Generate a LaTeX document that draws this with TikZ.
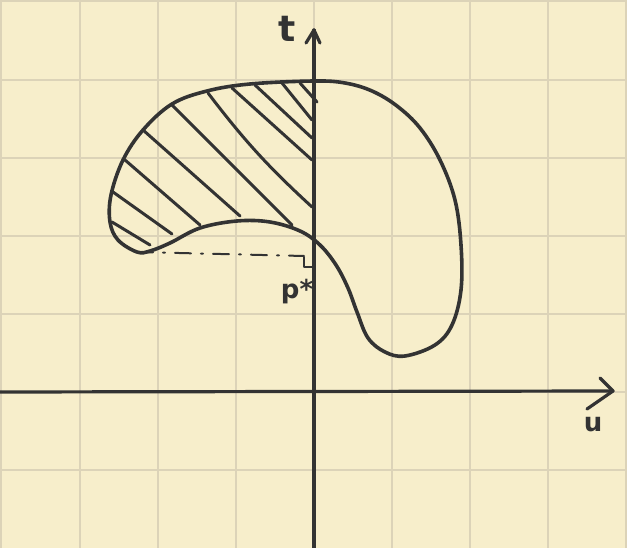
\documentclass[tikz,border=0pt]{standalone}
\usepackage{fontspec}
\setmainfont{DejaVu Sans}
\definecolor{paper}{HTML}{F7EECB}
\definecolor{gridc}{HTML}{DCD3B8}
\definecolor{ink}{HTML}{333333}
\begin{document}
\begin{tikzpicture}[x=1pt,y=-1pt,
  gridline/.style={gridc,line width=2.4pt},
  axisline/.style={ink,line width=3.2pt,line cap=round,line join=round},
  curveline/.style={ink,line width=3.6pt,line join=round},
  hatchline/.style={ink,line width=3pt,line cap=round},
  dashline/.style={ink,line width=2pt,line cap=round,dash pattern=on 16pt off 10pt on 2pt off 10pt},
  lbl/.style={ink,inner sep=0pt,font=\bfseries\fontsize{30}{30}\selectfont}]
\fill[paper] (0,0) rectangle (627,548);
\useasboundingbox (0,0) rectangle (627,548);
% grid
\foreach \x in {1,80,158,236,314,392,470,548,626} \draw[gridline] (\x,0) -- (\x,548);
\foreach \y in {1,80,158,236,314,392,470} \draw[gridline] (0,\y) -- (627,\y);
% hatching
\draw[hatchline] (112,222) -- (150,245);
\draw[hatchline] (113,192) -- (172,234);
\draw[hatchline] (125,160) -- (200,225);
\draw[hatchline] (143,130) -- (240,216);
\draw[hatchline] (172,105) -- (292,225);
\draw[hatchline] (208,93) to[bend right=5] (312,207);
\draw[hatchline] (232,88) -- (312,160);
\draw[hatchline] (255,85) -- (312,138);
\draw[hatchline] (282,83) -- (312,120);
\draw[hatchline] (300,83) -- (317,102);
% axes
\coordinate (ybot) at (314,548);
\coordinate (ytop) at (314,30);
\coordinate (xl) at (0,392);
\coordinate (xr) at (613,391);
\draw[axisline] (ybot) -- (ytop);
\draw[axisline] (306,43) -- (ytop) -- (320,43);
\draw[axisline] (xl) -- (xr);
\draw[axisline] (600,378) -- (xr) -- (587,409);
% region boundary
\draw[curveline] plot[smooth cycle,tension=0.6] coordinates {
 (137,252) (118,240) (110,222) (111,195) (123,160) (143,130) (172,104) (207,91)
 (250,84) (314,81) (345,83) (372,91) (397,106) (420,128) (440,160) (455,200)
 (461,245) (461,290) (452,325) (435,345) (405,356) (385,352) (368,338) (357,312)
 (348,288) (336,265) (320,245) (300,231) (270,222) (237,221) (200,228) (170,243)
 (150,251)};
% dash-dot line and right-angle mark
\coordinate (pa) at (137,252);
\coordinate (pb) at (304,256);
\draw[dashline] (pa) -- (pb);
\draw[ink,line width=2pt,line cap=round,line join=round] (304,257) -- (304,267) -- (312,267);
% labels
\node[lbl,font=\bfseries\fontsize{36}{36}\selectfont] (tl) at (287,29) {t};
\node[lbl,font=\bfseries\fontsize{26}{26}\selectfont] (ul) at (593,425) {u};
\node[lbl,font=\bfseries\fontsize{26}{26}\selectfont] (pl) at (297,292) {p*};
\end{tikzpicture}
\end{document}
